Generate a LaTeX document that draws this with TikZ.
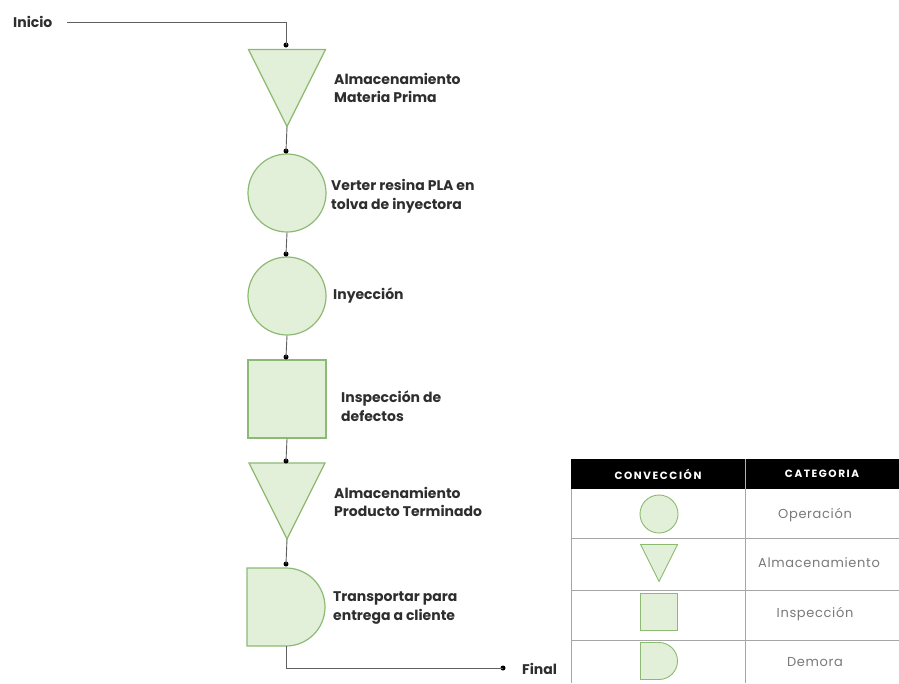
\documentclass[tikz,border=0pt]{standalone}
\usepackage{fontspec}
\setmainfont{Poppins}
\usetikzlibrary{calc}
\definecolor{shapefill}{HTML}{E2EFD9}
\definecolor{shapeline}{HTML}{8DBA72}
\definecolor{conn}{HTML}{606060}
\definecolor{rowline}{HTML}{A6A6A6}
\definecolor{cattext}{HTML}{7A7A7A}
\definecolor{lbltext}{HTML}{2E2E2E}
\begin{document}
\begin{tikzpicture}[x=1pt,y=-1pt,
  shapestyle/.style={draw=shapeline,fill=shapefill,line width=1.2pt},
  holder/.style={inner sep=0pt,outer sep=0pt,minimum width=#1,minimum height=#1},
  circ/.style={circle,shapestyle,inner sep=0pt,minimum size=#1},
  sq/.style={rectangle,shapestyle,inner sep=0pt,minimum size=#1},
  conline/.style={draw=conn,line width=0.9pt},
  dot/.style={circle,fill=black,inner sep=0pt,minimum size=5pt},
  lbl/.style={anchor=west,align=left,font=\bfseries\fontsize{14}{18.5}\selectfont,text=lbltext,inner sep=0pt},
  hdr/.style={font=\bfseries\fontsize{10.5}{12}\selectfont\addfontfeature{LetterSpace=15},text=white},
  cat/.style={font=\fontsize{13}{15}\selectfont\addfontfeature{LetterSpace=5},text=cattext}
]
\useasboundingbox (0,0) rectangle (899,683);
\fill[white] (0,0) rectangle (899,683);

% ---- flow shapes ----
\node[holder=77pt] (t1) at (287,88) {};
\path[shapestyle] (t1.north west) -- (t1.north east) -- (t1.south) -- cycle;
\node[circ=78pt] (c1) at (287,193) {};
\node[circ=78pt] (c2) at (287,296) {};
\node[sq=78pt] (s1) at (287,399) {};
\node[holder=76pt] (t2) at (287,501) {};
\path[shapestyle] (t2.north west) -- (t2.north east) -- (t2.south) -- cycle;
\node[holder=78pt] (d1) at (286,607) {};
\path[shapestyle] (d1.north west) -- (d1.north) arc[start angle=90,end angle=-90,radius=39pt] -- (d1.south west) -- cycle;

% ---- dots ----
\node[dot] (p1) at (286,45) {};
\node[dot] (p2) at (286,151) {};
\node[dot] (p3) at (286,254) {};
\node[dot] (p4) at (286,357) {};
\node[dot] (p5) at (286,461) {};
\node[dot] (p6) at (286,564) {};
\node[dot] (pf) at (503,668) {};

% ---- start / end ----
\node[anchor=west,inner sep=0pt,font=\bfseries\fontsize{14}{15}\selectfont,text=lbltext] (ini) at (13,22) {Inicio};
\node[anchor=west,inner sep=0pt,font=\bfseries\fontsize{14}{15}\selectfont,text=lbltext] (fin) at (522,669) {Final};
\coordinate (ini0) at (67,22);

% ---- connectors ----
\draw[conline] (ini0) -| (p1.center);
\draw[conline] (t1.south) -- (p2.center);
\draw[conline] (c1.south) -- (p3.center);
\draw[conline] (c2.south) -- (p4.center);
\draw[conline] (s1.south) -- (p5.center);
\draw[conline] (t2.south) -- (p6.center);
\draw[conline] (d1.south) |- (pf.center);

% ---- labels ----
\node[lbl] (l1) at (334,88) {Almacenamiento\\Materia Prima};
\node[lbl] (l2) at (331,196) {Verter resina PLA en\\tolva de inyectora};
\node[lbl] (l3) at (333,296) {Inyección};
\node[lbl] (l4) at (341,406) {Inspección de\\defectos};
\node[lbl] (l5) at (334,502) {Almacenamiento\\Producto Terminado};
\node[lbl] (l6) at (333,608) {Transportar para\\entrega a cliente};

% ---- legend table ----
\fill[black] (571,459) rectangle (899,489);
\draw[white!70!black,line width=0.6pt] (745,459) -- (745,489);
\draw[rowline,line width=0.8pt] (571,489) -- (571,683);
\draw[rowline,line width=0.8pt] (745,489) -- (745,683);
\draw[rowline,line width=0.8pt] (571,538) -- (899,538);
\draw[rowline,line width=0.8pt] (571,590) -- (899,590);
\draw[rowline,line width=0.8pt] (571,640) -- (899,640);
\node[hdr] (h1) at (658,474) {CONVECCIÓN};
\node[hdr] (h2) at (822,474) {CATEGORIA};

\node[circ=38pt,line width=0.9pt] (lc) at (659,514) {};
\node[holder=37pt] (lt) at (659,563) {};
\path[shapestyle,line width=0.9pt] (lt.north west) -- (lt.north east) -- (lt.south) -- cycle;
\node[sq=37pt,line width=0.9pt] (ls) at (659,612) {};
\node[holder=37pt] (ld) at (659,661) {};
\path[shapestyle,line width=0.9pt] (ld.north west) -- (ld.north) arc[start angle=90,end angle=-90,radius=18.5pt] -- (ld.south west) -- cycle;

\node[cat] (k1) at (815,515) {Operación};
\node[cat] (k2) at (819,563) {Almacenamiento};
\node[cat] (k3) at (815,614) {Inspección};
\node[cat] (k4) at (815,662) {Demora};
\end{tikzpicture}
\end{document}
